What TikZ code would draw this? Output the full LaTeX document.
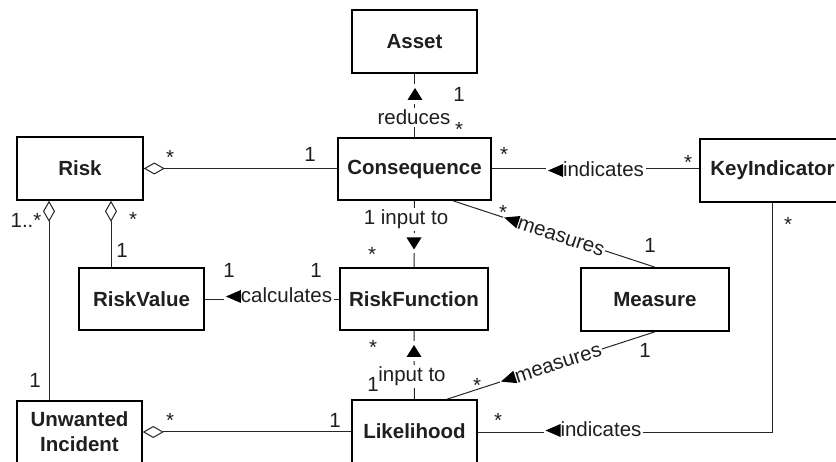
\documentclass[tikz,border=0pt]{standalone}
\usepackage{fontspec}
\setmainfont{Liberation Sans}
\usetikzlibrary{arrows.meta}
\newcommand\ltri{\tikz[baseline=0pt]\fill[black] (0pt,6.5pt) -- (15pt,13pt) -- (15pt,0pt) -- cycle;}
\newcommand\utri{\tikz[baseline=0pt]\fill[black] (0pt,0pt) -- (15pt,0pt) -- (7.5pt,12pt) -- cycle;}
\newcommand\dtri{\tikz[baseline=0pt]\fill[black] (0pt,12pt) -- (15pt,12pt) -- (7.5pt,0pt) -- cycle;}
\newcommand\lblfont{\fontsize{20.5}{25}\selectfont}
\begin{document}
\begin{tikzpicture}[x=1pt,y=-1pt,
  box/.style={draw=black, line width=1.6pt, inner sep=0pt, text=black!88,
    font=\lblfont\bfseries, align=center},
  conn/.style={draw=black!85, line width=1pt},
  dia/.style={arrows={Diamond[open,length=21pt,width=12pt]-}},
  lbl/.style={fill=white, inner sep=2pt, text=black!88, font=\lblfont, anchor=base},
  tri/.style={fill=white, inner sep=4pt},
  mult/.style={inner sep=0pt, text=black!88, font=\lblfont, anchor=base}]
\useasboundingbox (0,0) rectangle (836,462);
\clip (0,0) rectangle (836,462);
% classes
\node[box, minimum width=125pt, minimum height=63pt] (asset) at (414.5,41.5) {Asset};
\node[box, minimum width=153pt, minimum height=62pt] (cons) at (414.5,169) {Consequence};
\node[box, minimum width=126pt, minimum height=63pt] (risk) at (80,168.5) {Risk};
\node[box, minimum width=145pt, minimum height=63pt] (key) at (772.5,170.5) {KeyIndicator};
\node[box, minimum width=125pt, minimum height=62pt] (rv) at (141.5,299) {RiskValue};
\node[box, minimum width=148pt, minimum height=62pt] (rf) at (414,299) {RiskFunction};
\node[box, minimum width=148pt, minimum height=63pt] (meas) at (655,299.5) {Measure};
\node[box, minimum width=125pt, minimum height=62pt] (ui) at (79.5,432) {Unwanted\\Incident};
\node[box, minimum width=125pt, minimum height=63pt] (lik) at (414.5,431.5) {Likelihood};
% connectors
\draw[conn] (asset.south) -- (cons.north);
\draw[conn, dia] (risk.east) -- (risk.east -| cons.west);
\draw[conn] (cons.east) -- (cons.east -| key.west);
\draw[conn, dia] ([xshift=31pt]risk.south) -- ([xshift=31pt]risk.south |- rv.north);
\draw[conn, dia] ([xshift=-31pt]risk.south) -- ([xshift=-31pt]risk.south |- ui.north);
\draw[conn] ([yshift=-1pt]rv.east) -- ([yshift=-1pt]rf.west);
\draw[conn] (cons.south) -- (rf.north);
\draw[conn] (rf.south) -- (lik.north);
\draw[conn, dia] (ui.east) -- (ui.east -| lik.west);
\draw[conn] ([xshift=38.5pt]cons.south) -- node[midway, sloped, fill=white, inner sep=1pt, text=black!88, font=\lblfont] {\ltri measures} (meas.north);
\draw[conn] ([xshift=32.5pt]lik.north) -- node[midway, sloped, fill=white, inner sep=1pt, text=black!88, font=\lblfont] {\ltri measures} (meas.south);
\draw[conn] (key.south) |- ([yshift=-1.5pt]lik.east);
% association labels
\node[lbl] (redl) at (414,125) {reduces};
\node[tri] (redt) at (415,94) {\utri};
\node[lbl] (inl1) at (406,225) {1 input to};
\node[tri] (intr1) at (414,243.5) {\dtri};
\node[lbl] (inl2) at (412,382) {input to};
\node[tri] (intr2) at (414,351) {\utri};
\node[lbl] (ind1) at (596,177) {\ltri indicates};
\node[lbl] (calc) at (279,303) {\ltri calculates};
\node[lbl] (ind2) at (593.5,437) {\ltri indicates};
% multiplicities
\node[mult] (m1) at (459,102) {1};
\node[mult] (m2) at (459,137) {*};
\node[mult] (m3) at (504,162) {*};
\node[mult] (m4) at (688,170) {*};
\node[mult] (m5) at (170,165) {*};
\node[mult] (m6) at (310,162) {1};
\node[mult] (m7) at (133,227) {*};
\node[mult] (m8) at (122,258) {1};
\node[mult] (m9) at (26,228) {1..*};
\node[mult] (m10) at (35,388) {1};
\node[mult] (m11) at (229,278) {1};
\node[mult] (m12) at (316,278) {1};
\node[mult] (m13) at (372,262) {*};
\node[mult] (m14) at (503,220) {*};
\node[mult] (m15) at (650,253) {1};
\node[mult] (m16) at (788,232) {*};
\node[mult] (m17) at (373,355) {*};
\node[mult] (m18) at (373,392) {1};
\node[mult] (m19) at (477,393) {*};
\node[mult] (m20) at (645,358) {1};
\node[mult] (m21) at (498,428) {*};
\node[mult] (m22) at (170,428) {*};
\node[mult] (m23) at (335,428) {1};
\end{tikzpicture}
\end{document}
